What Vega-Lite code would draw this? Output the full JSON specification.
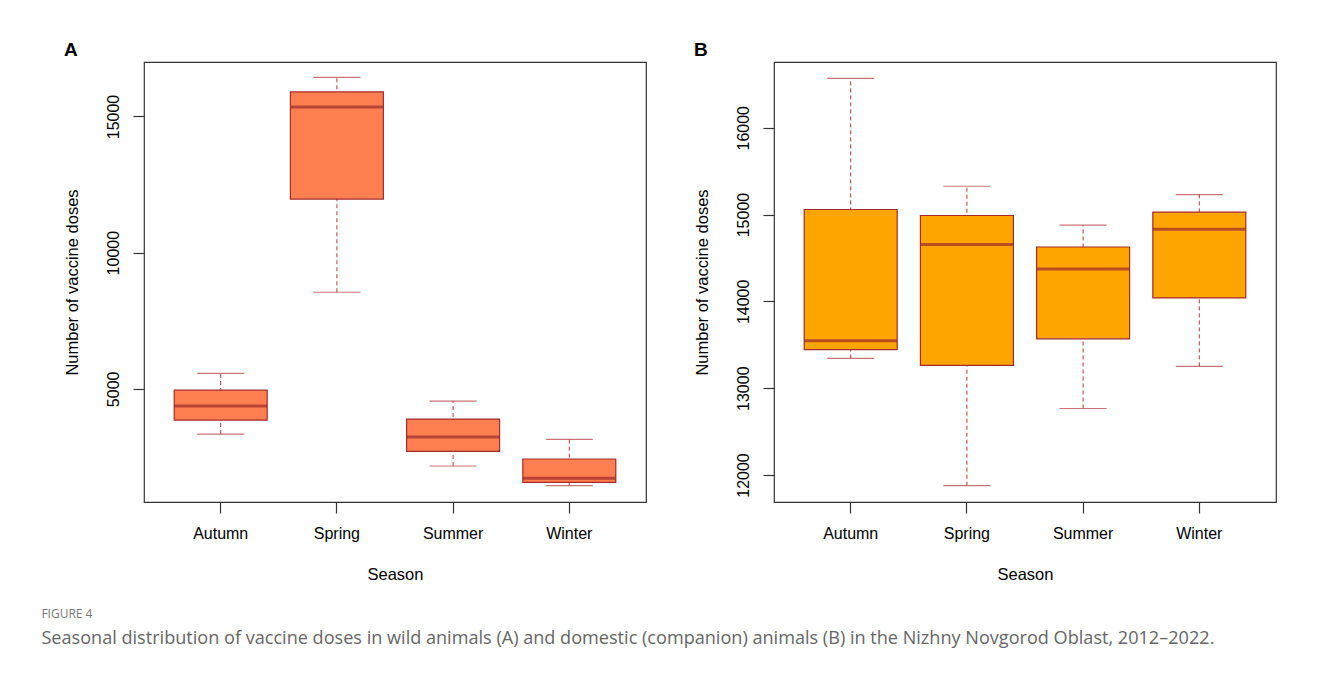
{
  "$schema": "https://vega.github.io/schema/vega-lite/v6.json",
  "background": "white",
  "padding": {"left": 41, "top": 40, "right": 10, "bottom": 10},
  "datasets": {
    "wild": [
      {"season": "Autumn", "lower": 3340, "q1": 3852, "median": 4366, "q3": 4952, "upper": 5564},
      {"season": "Spring", "lower": 8546, "q1": 11966, "median": 15351, "q3": 15902, "upper": 16437},
      {"season": "Summer", "lower": 2166, "q1": 2705, "median": 3230, "q3": 3889, "upper": 4549},
      {"season": "Winter", "lower": 1445, "q1": 1567, "median": 1714, "q3": 2423, "upper": 3144}
    ],
    "domestic": [
      {"season": "Autumn", "lower": 13343, "q1": 13443, "median": 13546, "q3": 15058, "upper": 16569},
      {"season": "Spring", "lower": 11877, "q1": 13263, "median": 14656, "q3": 14989, "upper": 15326},
      {"season": "Summer", "lower": 12766, "q1": 13569, "median": 14373, "q3": 14626, "upper": 14878},
      {"season": "Winter", "lower": 13251, "q1": 14040, "median": 14832, "q3": 15028, "upper": 15230}
    ]
  },
  "title": {
    "text": "FIGURE 4",
    "subtitle": "Seasonal distribution of vaccine doses in wild animals (A) and domestic (companion) animals (B) in the Nizhny Novgorod Oblast, 2012–2022.",
    "orient": "bottom",
    "anchor": "start",
    "frame": "bounds",
    "dx": -22,
    "offset": 26,
    "font": "Open Sans",
    "fontSize": 12,
    "fontWeight": "normal",
    "color": "#777777",
    "subtitleFont": "Open Sans",
    "subtitleFontSize": 18.1,
    "subtitleColor": "#666666",
    "subtitlePadding": 9
  },
  "spacing": 46,
  "hconcat": [
    {
      "title": {"text": "A", "anchor": "start", "frame": "bounds", "fontSize": 19, "fontWeight": "bold", "font": "Liberation Sans", "color": "#000000", "offset": 2},
      "width": 502,
      "height": 440,
      "data": {"name": "wild"},
      "encoding": {
        "x": {
          "field": "season",
          "type": "nominal",
          "scale": {"paddingInner": 0.2, "paddingOuter": 0.26},
          "axis": {"title": "Season", "labelAngle": 0}
        }
      },
      "layer": [
        {
          "mark": {"type": "rule", "strokeDash": [4, 3], "color": "#B23A3A", "strokeWidth": 1},
          "encoding": {
            "y": {"field": "lower", "type": "quantitative", "scale": {"domain": [845, 17000], "nice": false, "zero": false},
                  "axis": {"title": "Number of vaccine doses", "values": [5000, 10000, 15000], "format": "d"}},
            "y2": {"field": "upper"}
          }
        },
        {
          "mark": {"type": "bar", "fill": "#FF7F50", "stroke": "#A52A2A", "strokeWidth": 1.2},
          "encoding": {
            "y": {"field": "q1", "type": "quantitative", "scale": {"domain": [845, 17000], "nice": false, "zero": false}},
            "y2": {"field": "q3"}
          }
        },
        {
          "mark": {"type": "tick", "size": 93, "thickness": 3, "color": "#9E2A2B"},
          "encoding": {"y": {"field": "median", "type": "quantitative", "scale": {"domain": [845, 17000], "nice": false, "zero": false}}}
        },
        {
          "mark": {"type": "tick", "size": 47, "thickness": 1.2, "color": "#B23A3A"},
          "encoding": {"y": {"field": "lower", "type": "quantitative", "scale": {"domain": [845, 17000], "nice": false, "zero": false}}}
        },
        {
          "mark": {"type": "tick", "size": 47, "thickness": 1.2, "color": "#B23A3A"},
          "encoding": {"y": {"field": "upper", "type": "quantitative", "scale": {"domain": [845, 17000], "nice": false, "zero": false}}}
        }
      ]
    },
    {
      "title": {"text": "B", "anchor": "start", "frame": "bounds", "fontSize": 19, "fontWeight": "bold", "font": "Liberation Sans", "color": "#000000", "offset": 2},
      "width": 502,
      "height": 440,
      "data": {"name": "domestic"},
      "encoding": {
        "x": {
          "field": "season",
          "type": "nominal",
          "scale": {"paddingInner": 0.2, "paddingOuter": 0.26},
          "axis": {"title": "Season", "labelAngle": 0}
        }
      },
      "layer": [
        {
          "mark": {"type": "rule", "strokeDash": [4, 3], "color": "#B23A3A", "strokeWidth": 1},
          "encoding": {
            "y": {"field": "lower", "type": "quantitative", "scale": {"domain": [11689, 16757], "nice": false, "zero": false},
                  "axis": {"title": "Number of vaccine doses", "values": [12000, 13000, 14000, 15000, 16000], "format": "d"}},
            "y2": {"field": "upper"}
          }
        },
        {
          "mark": {"type": "bar", "fill": "#FFA500", "stroke": "#A52A2A", "strokeWidth": 1.2},
          "encoding": {
            "y": {"field": "q1", "type": "quantitative", "scale": {"domain": [11689, 16757], "nice": false, "zero": false}},
            "y2": {"field": "q3"}
          }
        },
        {
          "mark": {"type": "tick", "size": 93, "thickness": 3, "color": "#9E2A2B"},
          "encoding": {"y": {"field": "median", "type": "quantitative", "scale": {"domain": [11689, 16757], "nice": false, "zero": false}}}
        },
        {
          "mark": {"type": "tick", "size": 47, "thickness": 1.2, "color": "#B23A3A"},
          "encoding": {"y": {"field": "lower", "type": "quantitative", "scale": {"domain": [11689, 16757], "nice": false, "zero": false}}}
        },
        {
          "mark": {"type": "tick", "size": 47, "thickness": 1.2, "color": "#B23A3A"},
          "encoding": {"y": {"field": "upper", "type": "quantitative", "scale": {"domain": [11689, 16757], "nice": false, "zero": false}}}
        }
      ]
    }
  ],
  "config": {
    "font": "Liberation Sans",
    "view": {"stroke": "#333333", "strokeWidth": 1.2},
    "axis": {
      "domain": false,
      "grid": false,
      "tickColor": "#333333",
      "tickWidth": 1.2,
      "tickSize": 11,
      "labelFont": "Liberation Sans",
      "labelFontSize": 16,
      "labelColor": "#000000",
      "titleFont": "Liberation Sans",
      "titleFontSize": 16.5,
      "titleFontWeight": "normal",
      "titleColor": "#000000"
    },
    "axisY": {
      "labelAngle": 270,
      "labelAlign": "center",
      "labelBaseline": "bottom",
      "labelPadding": 12,
      "titlePadding": 25
    },
    "axisX": {
      "labelPadding": 12,
      "titlePadding": 25
    }
  }
}
